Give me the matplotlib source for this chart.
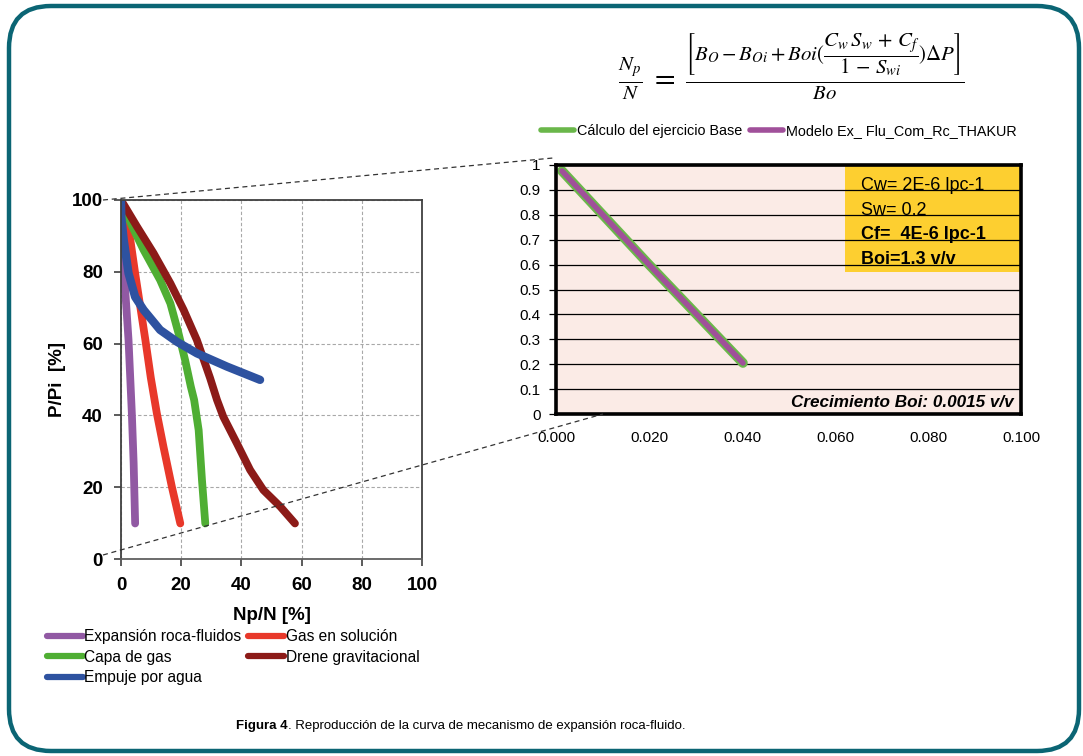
import matplotlib
matplotlib.use("Agg")
import matplotlib.pyplot as plt
from matplotlib.lines import Line2D
from matplotlib.patches import FancyBboxPatch, Rectangle
from matplotlib.transforms import IdentityTransform

plt.rcParams['font.family'] = ['Liberation Sans', 'DejaVu Sans']
plt.rcParams['mathtext.fontset'] = 'stix'

# ---------------- data: left chart (Np/N %, P/Pi %) ----------------
exp_x = [0, 0.1, 0.3, 1.4, 2.5, 3.1, 3.6, 4.2, 4.7]
exp_y = [100, 95, 88.9, 74.9, 61, 49.9, 40.6, 26.7, 9.9]

gas_sol_x = [0, 0.9, 3.1, 4.7, 6.4, 8.1, 9.9, 11.9, 14.1, 16.9, 19.7]
gas_sol_y = [100, 97.2, 88.9, 79.6, 70.3, 61.0, 50.5, 40.6, 31.3, 20.1, 9.9]

capa_x = [0, 3.5, 7.5, 13.0, 16.4, 19.1, 21.3, 23.2, 24.3, 25.8, 26.9, 28.0]
capa_y = [100, 93.0, 86.1, 77.7, 71.2, 62.9, 55.4, 48.0, 44.3, 35.9, 22.0, 9.9]

drene_x = [0, 5.3, 10.8, 16.4, 20.8, 25.2, 29.6, 31.9, 34.0, 38.5, 42.9, 47.3, 52.9, 57.8]
drene_y = [100, 92.6, 85.2, 76.8, 69.4, 61.0, 50.4, 44.3, 39.6, 32.2, 24.8, 19.2, 14.6, 9.9]

agua_x = [0, 0.1, 0.9, 2.5, 4.7, 7.5, 13.0, 18.6, 25.2, 35.2, 46.2]
agua_y = [100, 95.3, 88.9, 79.6, 73.0, 69.4, 63.8, 60.5, 57.3, 53.6, 49.9]

left_labels = ["Expansión roca-fluidos", "Gas en solución", "Capa de gas",
               "Drene gravitacional", "Empuje por agua"]
left_ticks = [0, 20, 40, 60, 80, 100]

# ---------------- data: right chart ----------------
base_x = [0.0013, 0.0200, 0.0402]
base_y = [0.976, 0.600, 0.205]
thakur_x = [0.0013, 0.0200, 0.0402]
thakur_y = [0.976, 0.600, 0.205]
right_labels = ["Cálculo del ejercicio Base", "Modelo Ex_ Flu_Com_Rc_THAKUR"]
right_xticks = [0.0, 0.02, 0.04, 0.06, 0.08, 0.10]
right_yticks = [0, 0.1, 0.2, 0.3, 0.4, 0.5, 0.6, 0.7, 0.8, 0.9, 1]
right_yticklabels = ["0", "0.1", "0.2", "0.3", "0.4", "0.5", "0.6", "0.7", "0.8", "0.9", "1"]
params = [("Cw= 2E-6 lpc-1", "normal"), ("Sw= 0.2", "normal"),
          ("Cf=  4E-6 lpc-1", "bold"), ("Boi=1.3 v/v", "bold")]

W, H = 1083, 756
fig = plt.figure(figsize=(W / 100, H / 100), dpi=100)
fig.patch.set_facecolor("white")

def fx(px):
    return px / W

def fy(py):
    return 1 - py / H

# ---------------- left axes ----------------
axL = fig.add_axes([fx(121), fy(559), fx(422) - fx(121), fy(200) - fy(559)])
cols = {"exp": "#9159a3", "gas": "#e8382a", "capa": "#4fae33",
        "drene": "#8c1b18", "agua": "#2e52a0"}
lw = 5.6
kw = dict(lw=lw, solid_capstyle="round", solid_joinstyle="round")
hE, = axL.plot(exp_x, exp_y, color=cols["exp"], **kw)
hG, = axL.plot(gas_sol_x, gas_sol_y, color=cols["gas"], **kw)
hC, = axL.plot(capa_x, capa_y, color=cols["capa"], **kw)
hD, = axL.plot(drene_x, drene_y, color=cols["drene"], **kw)
hA, = axL.plot(agua_x, agua_y, color=cols["agua"], lw=6.0,
               solid_capstyle="round", solid_joinstyle="round")
axL.set_xlim(0, 100)
axL.set_ylim(0, 100)
axL.set_xticks(left_ticks)
axL.set_yticks(left_ticks)
axL.grid(True, color="#a8a8a8", linestyle=(0, (3, 2)), lw=0.8)
axL.set_axisbelow(True)
for s in axL.spines.values():
    s.set_color("#404040")
    s.set_linewidth(1.3)
axL.spines["bottom"].set_color("#606060")
axL.tick_params(direction="out", length=5, width=1.2, color="#404040", labelsize=13.5)
axL.tick_params(axis="x", pad=8)
axL.tick_params(axis="y", pad=8)
for lab in axL.get_xticklabels() + axL.get_yticklabels():
    lab.set_fontweight("bold")
axL.set_xlabel("Np/N [%]", fontsize=13.5, fontweight="bold", labelpad=9)
axL.set_ylabel("P/Pi  [%]", fontsize=13.5, fontweight="bold", labelpad=4)

legL = fig.legend([hE, hC, hA, hG, hD],
                  [left_labels[0], left_labels[2], left_labels[4], left_labels[1], left_labels[3]],
                  ncol=2, loc="upper left", bbox_to_anchor=(fx(47), fy(629)),
                  frameon=False, fontsize=11.2, handlelength=2.3, handletextpad=0.1,
                  columnspacing=0.45, labelspacing=0.36, borderaxespad=0, borderpad=0)
for l in legL.get_lines():
    l.set_linewidth(4.5)
    l.set_solid_capstyle("round")

# ---------------- right axes ----------------
axR = fig.add_axes([fx(556), fy(414), fx(1021) - fx(556), fy(165) - fy(414)])
axR.set_facecolor("#fbebe6")
axR.add_patch(Rectangle((0.0622, 0.57), 0.0378, 0.43, facecolor="#fdcf30",
                        edgecolor="none", zorder=0.5))
axR.set_xlim(0, 0.1)
axR.set_ylim(0, 1)
axR.set_yticks(right_yticks)
axR.set_yticklabels(right_yticklabels)
axR.set_xticks(right_xticks)
axR.set_xticklabels([f"{v:.3f}" for v in right_xticks])
axR.yaxis.grid(True, color="black", lw=0.9)
axR.set_axisbelow(False)
for gl in axR.get_ygridlines():
    gl.set_zorder(1)
g1, = axR.plot(base_x, base_y, color="#6ab74a", lw=7, solid_capstyle="round", zorder=3)
g2, = axR.plot(thakur_x, thakur_y, color="#a0509a", lw=4, solid_capstyle="round", zorder=4)
for s in axR.spines.values():
    s.set_color("black")
    s.set_linewidth(2.6)
    s.set_zorder(5)
axR.tick_params(axis="y", direction="out", length=5, width=0.9, labelsize=11, pad=6)
axR.tick_params(axis="x", length=0, labelsize=11, pad=12)

ys = [0.919, 0.819, 0.719, 0.619]
for (txt, wt), yv in zip(params, ys):
    axR.text(0.0655, yv, txt, fontsize=13, fontweight=wt, va="center", ha="left", zorder=2)
axR.text(0.0985, 0.015, "Crecimiento Boi: 0.0015 v/v", fontsize=12.3,
         fontweight="bold", fontstyle="italic", ha="right", va="bottom", zorder=6)

legR = fig.legend([g1, g2], right_labels, ncol=2, loc="center left",
                  bbox_to_anchor=(fx(541), fy(131)), frameon=False, fontsize=10.4,
                  handlelength=2.3, handletextpad=0.2, columnspacing=0.5,
                  borderaxespad=0, borderpad=0)
for l in legR.get_lines():
    l.set_linewidth(4)
    l.set_solid_capstyle("round")

# ---------------- formula ----------------
fig.text(fx(791), fy(67),
         r'$\frac{N_p}{N}\;=\;\frac{\left[B_O - B_{Oi} + Boi(\dfrac{C_w\,S_w\,+\,C_f}{1\,-\,S_{wi}})\Delta P\right]}{Bo}$',
         fontsize=21.5, ha="center", va="center")

# ---------------- connector dashed lines ----------------
fig.add_artist(Line2D([fx(103), fx(553)], [fy(200), fy(158)], color="#333333",
                      lw=0.9, linestyle=(0, (4, 3))))
fig.add_artist(Line2D([fx(103), fx(603)], [fy(555), fy(414)], color="#333333",
                      lw=0.9, linestyle=(0, (4, 3))))

# ---------------- caption ----------------
t1 = fig.text(fx(236), fy(726), "Figura 4", fontsize=9.5, fontweight="bold",
              ha="left", va="center")
fig.canvas.draw()
ann = plt.annotate(". Reproducción de la curva de mecanismo de expansión roca-fluido.",
                   xy=(1, 0), xycoords=t1, xytext=(0, 0), textcoords="offset points",
                   fontsize=9.5, ha="left", va="bottom", annotation_clip=False)

# ---------------- rounded border ----------------
border = FancyBboxPatch((9, 5), 1070, 745, boxstyle="round,pad=0,rounding_size=42",
                        transform=IdentityTransform(), facecolor="none",
                        edgecolor="#0b6574", lw=3.2)
fig.add_artist(border)

fig.savefig("out.png", dpi=100)
